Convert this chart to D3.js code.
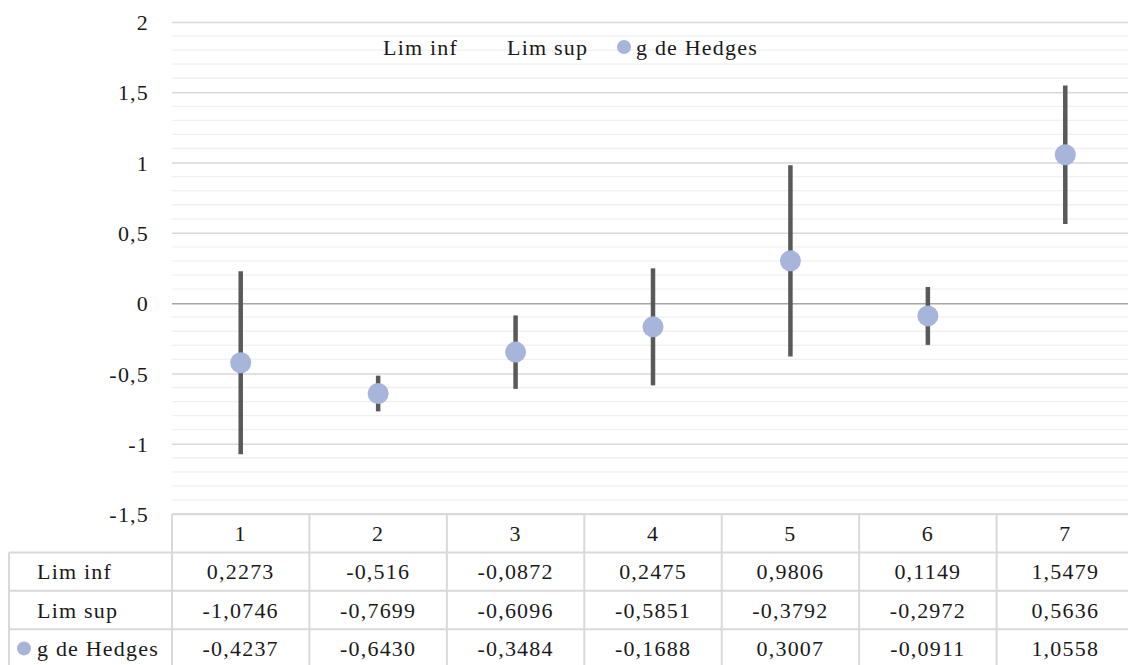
<!DOCTYPE html>
<html>
<head>
<meta charset="utf-8">
<script src="https://cdn.jsdelivr.net/npm/d3@7"></script>
<style>
  html, body { margin: 0; padding: 0; background: #fff; }
  svg { display: block; }
</style>
</head>
<body>
<svg id="chart" width="1128" height="665"></svg>
<script>
const categories = ["1", "2", "3", "4", "5", "6", "7"];
const limInf = [0.2273, -0.516, -0.0872, 0.2475, 0.9806, 0.1149, 1.5479];
const limSup = [-1.0746, -0.7699, -0.6096, -0.5851, -0.3792, -0.2972, 0.5636];
const hedges = [-0.4237, -0.6430, -0.3484, -0.1688, 0.3007, -0.0911, 1.0558];
const seriesNames = ["Lim inf", "Lim sup", "g de Hedges"];
const yTicks = [-1.5, -1, -0.5, 0, 0.5, 1, 1.5, 2];

const plotLeft = 172, plotRight = 1134, plotTop = 22, plotBottom = 514;
const tableLeft = 9, rowH = 38.4;

const svg = d3.select("#chart");
const fmtTick = v => String(v).replace(".", ",");

const x = d3.scaleBand().domain(categories).range([plotLeft, plotRight]);
const y = d3.scaleLinear().domain([-1.5, 2]).range([plotBottom, plotTop]);

// minor gridlines
const minor = d3.range(-15, 21).map(i => i / 10).filter(v => Math.abs(v * 2 - Math.round(v * 2)) > 1e-6);
svg.append("g").selectAll("line").data(minor).join("line")
  .attr("x1", plotLeft).attr("x2", plotRight)
  .attr("y1", d => y(d)).attr("y2", d => y(d))
  .attr("stroke", "#f0f0f0").attr("stroke-width", 1.3);

// major gridlines via axis
const gridAxis = d3.axisLeft(y).tickValues(yTicks).tickSize(-(plotRight - plotLeft)).tickFormat("");
const gg = svg.append("g").attr("transform", `translate(${plotLeft},0)`).call(gridAxis);
gg.select(".domain").remove();
gg.selectAll("line").attr("stroke", d => d === 0 ? "#a6a6a6" : "#d9d9d9").attr("stroke-width", 1.5);

// y tick labels
const labAxis = d3.axisLeft(y).tickValues(yTicks).tickSize(0).tickPadding(0).tickFormat(fmtTick);
const la = svg.append("g").attr("transform", `translate(149,0)`).call(labAxis);
la.select(".domain").remove();
la.attr("font-family", null).attr("font-size", null);
la.selectAll("text").attr("dy", "0.35em");

// high-low lines
svg.append("g").selectAll("line").data(categories).join("line")
  .attr("x1", d => x(d) + x.bandwidth() / 2).attr("x2", d => x(d) + x.bandwidth() / 2)
  .attr("y1", (d, i) => y(limInf[i])).attr("y2", (d, i) => y(limSup[i]))
  .attr("stroke", "#595959").attr("stroke-width", 4.5);

// markers
svg.append("g").selectAll("circle").data(categories).join("circle")
  .attr("cx", d => x(d) + x.bandwidth() / 2)
  .attr("cy", (d, i) => y(hedges[i]))
  .attr("r", 10.5).attr("fill", "#a7b5da");

// legend
const lg = svg.append("g");
lg.append("text").attr("x", 383).attr("y", 47).attr("dy", "0.35em").text(seriesNames[0]);
lg.append("text").attr("x", 507).attr("y", 47).attr("dy", "0.35em").text(seriesNames[1]);
lg.append("circle").attr("cx", 624).attr("cy", 47).attr("r", 7).attr("fill", "#a7b5da");
lg.append("text").attr("x", 636).attr("y", 47).attr("dy", "0.35em").text(seriesNames[2]);

// data table
const tb = svg.append("g");
const border = "#d9d9d9";
const rows = [
  {name: seriesNames[0], vals: limInf.map(v => String(v).replace(".", ","))},
  {name: seriesNames[1], vals: limSup.map(v => String(v).replace(".", ","))},
  {name: seriesNames[2], vals: hedges.map(v => v.toFixed(4).replace(".", ",")), marker: true}
];
const tableBottom = plotBottom + rowH * 4;
tb.append("line").attr("x1", plotLeft).attr("x2", plotRight).attr("y1", plotBottom).attr("y2", plotBottom)
  .attr("stroke", border).attr("stroke-width", 2);
for (let r = 1; r <= 4; r++) {
  tb.append("line").attr("x1", tableLeft).attr("x2", plotRight)
    .attr("y1", plotBottom + rowH * r).attr("y2", plotBottom + rowH * r)
    .attr("stroke", border).attr("stroke-width", 2);
}
tb.append("line").attr("x1", tableLeft).attr("x2", tableLeft).attr("y1", plotBottom + rowH).attr("y2", tableBottom)
  .attr("stroke", border).attr("stroke-width", 2);
tb.selectAll("line.v").data(categories.concat(["end"])).join("line").attr("class", "v")
  .attr("x1", (d, i) => plotLeft + i * x.bandwidth()).attr("x2", (d, i) => plotLeft + i * x.bandwidth())
  .attr("y1", plotBottom).attr("y2", tableBottom)
  .attr("stroke", border).attr("stroke-width", 2);
tb.selectAll("text.hdr").data(categories).join("text").attr("class", "hdr")
  .attr("x", d => x(d) + x.bandwidth() / 2).attr("y", plotBottom + rowH / 2)
  .attr("dy", "0.35em").attr("text-anchor", "middle").text(d => d);
rows.forEach((row, ri) => {
  const cy = plotBottom + rowH * (ri + 1) + rowH / 2;
  if (row.marker) tb.append("circle").attr("cx", 24).attr("cy", cy).attr("r", 7).attr("fill", "#a7b5da");
  tb.append("text").attr("x", 37).attr("y", cy).attr("dy", "0.35em").text(row.name);
  tb.selectAll(null).data(row.vals).join("text")
    .attr("x", (d, i) => x(categories[i]) + x.bandwidth() / 2).attr("y", cy)
    .attr("dy", "0.35em").attr("text-anchor", "middle").text(d => d);
});

// typography applied to every text
svg.selectAll("text")
  .attr("font-family", "Liberation Serif")
  .attr("font-size", 22)
  .attr("letter-spacing", "1.2px")
  .attr("fill", "#1a1a1a");
</script>
</body>
</html>
